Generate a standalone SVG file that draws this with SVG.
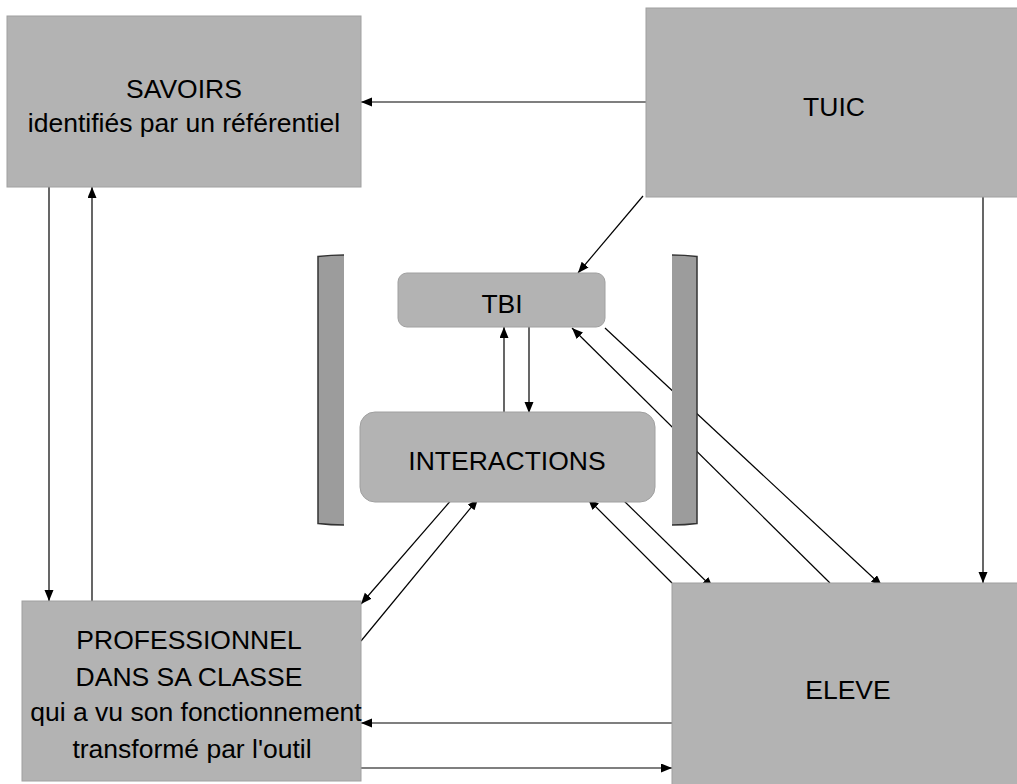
<svg xmlns="http://www.w3.org/2000/svg" width="1017" height="784" viewBox="0 0 1017 784">
<defs>
<marker id="ah" markerUnits="userSpaceOnUse" markerWidth="12" markerHeight="10" refX="11" refY="4.5" orient="auto">
<path d="M0,0 L11,4.5 L0,9 z" fill="#000"/>
</marker>
<style>
.box{fill:#b3b3b3;stroke:#a0a0a0;stroke-width:1}
.t{font-family:"Liberation Sans",Arial,sans-serif;font-size:26.5px;fill:#000;text-anchor:middle}
.c line{stroke:#000;stroke-width:1.2;marker-end:url(#ah)}
.bar{fill:#9c9c9c}
.edge{fill:none;stroke:#333;stroke-width:1.5}
</style>
</defs>
<rect width="1017" height="784" fill="#fff"/>
<g id="connectors" class="c">
<line x1="646" y1="102" x2="361" y2="102"/>
<line x1="49" y1="187" x2="49" y2="601"/>
<line x1="92" y1="601" x2="92" y2="187"/>
<line x1="643" y1="196" x2="578" y2="273"/>
<line x1="983" y1="197" x2="983" y2="583"/>
<line x1="529" y1="327" x2="529" y2="413"/>
<line x1="504" y1="413" x2="504" y2="327"/>
<line x1="605" y1="328" x2="882" y2="586"/>
<line x1="830" y1="583" x2="572" y2="328"/>
<line x1="453" y1="498" x2="361" y2="604"/>
<line x1="361" y1="641" x2="478" y2="499"/>
<line x1="621" y1="498" x2="713" y2="588"/>
<line x1="672" y1="583" x2="588" y2="499"/>
<line x1="672" y1="723" x2="361" y2="723"/>
<line x1="361" y1="768" x2="672" y2="768"/>
</g>
<g id="bar-left">
<path class="bar" d="M318,256.5 Q331,255 344,255 L344,525 Q331,525 318,523.5 Z"/>
<path class="edge" d="M344,255 Q331,255 318,256.5 L318,523.5 Q331,525 344,525"/>
</g>
<g id="bar-right">
<path class="bar" d="M672,255 Q685,255 697,256.5 L697,523.5 Q685,525 672,525 Z"/>
<path class="edge" d="M672,255 Q685,255 697,256.5 L697,523.5 Q685,525 672,525"/>
</g>
<g id="savoirs">
<rect class="box" x="7" y="16" width="354" height="171"/>
<text class="t" x="184" y="98">SAVOIRS</text>
<text class="t" x="184" y="132">identifiés par un référentiel</text>
</g>
<g id="tuic">
<rect class="box" x="646" y="8" width="375" height="189"/>
<text class="t" x="834" y="116">TUIC</text>
</g>
<g id="tbi">
<rect class="box" x="398" y="273" width="207" height="54" rx="9"/>
<text class="t" x="502" y="313">TBI</text>
</g>
<g id="interactions">
<rect class="box" x="360" y="412" width="295" height="90" rx="15"/>
<text class="t" x="507" y="470">INTERACTIONS</text>
</g>
<g id="professionnel">
<rect class="box" x="22" y="601" width="339" height="180"/>
<text class="t" x="189" y="649">PROFESSIONNEL</text>
<text class="t" x="189" y="686">DANS SA CLASSE</text>
<text class="t" x="196" y="721">qui a vu son fonctionnement</text>
<text class="t" x="192" y="758">transformé par l'outil</text>
</g>
<g id="eleve">
<rect class="box" x="672" y="583" width="350" height="205"/>
<text class="t" x="848" y="699">ELEVE</text>
</g>
</svg>
